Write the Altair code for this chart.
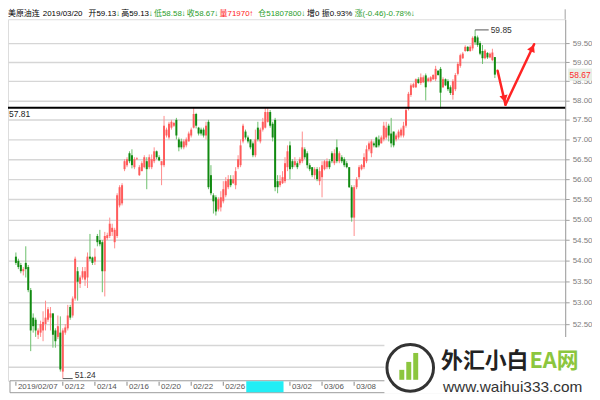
import altair as alt
import pandas as pd

# ---------------- data ----------------
opens = [54.10, 54.00, 53.90, 53.75, 53.95, 53.85, 53.30, 52.65, 52.60, 52.25,
         52.30, 52.35, 52.50, 52.60, 52.65, 52.75, 52.35, 52.20, 52.30, 51.40,
         52.30, 52.40, 52.90, 52.70, 53.10, 53.75, 53.45, 53.60, 53.55, 53.60,
         54.10, 54.08, 53.98, 54.60, 54.50, 54.45, 53.75, 54.55, 54.60, 54.70,
         54.45, 54.60, 55.35, 55.40, 56.25, 56.35, 56.65,
         56.60, 56.30, 56.50, 56.10, 56.20, 56.30, 56.45, 56.30, 56.30, 56.45,
         56.70, 56.55, 56.35, 56.35, 57.10, 57.05, 57.30, 57.35, 57.50, 57.00,
         56.95, 56.80, 56.85, 56.95, 57.10, 57.30, 57.65, 57.30, 57.25, 57.25,
         57.10, 57.45, 56.10, 55.60, 55.55, 55.25, 55.30, 55.45, 55.60, 55.80,
         56.00, 55.90, 55.85, 56.30, 56.35, 56.95, 57.20, 57.05,
         57.00, 56.90, 56.60, 57.30, 56.95, 57.25, 57.30, 57.45, 57.70, 57.40,
         57.50, 55.95, 55.85, 55.90, 55.95, 56.30, 56.85, 56.45, 56.35, 56.40,
         56.40, 56.45, 56.75, 56.65, 56.35, 56.30, 56.10, 56.25, 55.95, 56.05,
         56.25, 56.30, 56.45, 56.65, 56.40, 56.80, 56.45, 56.55, 56.50, 56.40,
         56.30, 55.80, 55.05, 55.80, 56.05, 56.25, 56.30, 56.45, 56.75, 56.65,
         56.90,
         57.05, 57.00, 56.90, 57.00, 57.05, 57.35, 57.15, 57.20, 57.00, 57.05,
         57.10, 57.10, 57.35, 57.78,
         58.14, 58.34, 58.34, 58.55, 58.45, 58.47, 58.65, 58.50, 58.50, 58.55,
         58.55, 58.77, 58.82, 58.34, 58.55, 58.50, 58.34, 58.14, 58.29, 58.69,
         58.90, 59.10, 59.29, 59.40, 59.29, 59.36, 59.68, 59.65, 59.50, 59.29,
         59.10, 59.24, 59.12, 59.05, 59.13]
highs = [54.20, 54.05, 53.95, 53.85, 54.35, 53.90, 53.35, 52.75, 52.65, 52.40,
         52.58, 52.80, 53.05, 52.90, 52.90, 52.75, 52.40, 52.70, 52.68, 52.40,
         52.50, 52.95, 52.95, 53.15, 54.10, 53.85, 53.65, 53.85, 53.85, 54.20,
         54.65, 54.10, 54.30, 54.65, 54.75, 54.50, 54.70, 54.68, 55.05, 54.90,
         54.80, 55.65, 55.85, 55.90, 56.50, 56.55, 56.70,
         56.75, 56.55, 56.55, 56.35, 56.45, 56.60, 56.55, 56.62, 56.62, 56.80,
         56.72, 56.60, 56.45, 57.60, 57.30, 57.45, 57.50, 57.45, 57.55, 57.05,
         57.02, 57.00, 57.05, 57.20, 57.30, 57.81, 57.68, 57.32, 57.30, 57.30,
         57.45, 57.50, 56.35, 55.65, 55.60, 55.55, 55.70, 55.95, 56.05, 56.10,
         56.10, 56.10, 56.30, 56.60, 57.00, 57.40, 57.25, 57.10,
         57.00, 56.95, 57.25, 57.45, 57.30, 57.55, 57.80, 57.80, 57.75, 57.45,
         57.55, 56.10, 56.10, 56.20, 56.55, 56.85, 56.95, 56.50, 56.55, 56.45,
         56.55, 57.20, 56.80, 56.70, 56.40, 56.30, 56.30, 56.30, 56.30, 56.45,
         56.48, 56.52, 56.50, 56.70, 56.75, 57.00, 56.70, 56.60, 56.55, 56.45,
         56.30, 55.85, 55.85, 56.05, 56.35, 56.38, 56.65, 56.85, 56.95, 57.00,
         56.95,
         57.07, 57.10, 57.10, 57.45, 57.45, 57.40, 57.55, 57.20, 57.15, 57.25,
         57.30, 57.45, 57.80, 58.22,
         58.44, 58.46, 58.57, 58.60, 58.70, 58.65, 58.70, 58.60, 58.63, 58.68,
         58.90, 58.79, 58.87, 58.60, 58.57, 58.55, 58.39, 58.55, 58.71, 59.00,
         59.22, 59.26, 59.44, 59.42, 59.44, 59.68, 59.85, 59.70, 59.55, 59.45,
         59.34, 59.26, 59.25, 59.35, 59.13]
lows = [53.90, 53.80, 53.70, 53.65, 53.60, 53.25, 51.87, 52.30, 52.20, 52.15,
        52.20, 52.10, 52.35, 52.55, 52.35, 51.95, 51.95, 52.15, 51.40, 51.24,
        52.25, 52.35, 52.60, 52.65, 53.05, 53.05, 53.35, 53.55, 53.40, 53.35,
        54.00, 53.90, 53.90, 54.35, 54.35, 53.25, 53.15, 54.50, 54.55, 54.60,
        54.30, 54.55, 55.30, 55.35, 56.20, 56.30, 56.40,
        56.27, 56.25, 56.48, 56.08, 56.20, 56.27, 55.75, 56.25, 56.25, 56.40,
        56.50, 56.45, 55.85, 56.30, 57.05, 57.00, 57.25, 57.32, 57.00, 56.70,
        56.75, 56.75, 56.80, 56.95, 57.05, 57.28, 57.28, 57.10, 57.10, 57.05,
        57.00, 55.75, 55.60, 55.15, 55.10, 55.20, 55.20, 55.40, 55.55, 55.75,
        55.80, 55.88, 55.75, 56.25, 56.30, 56.90, 57.00, 56.90,
        56.75, 56.55, 56.55, 56.95, 56.90, 57.20, 57.28, 57.43, 57.30, 56.95,
        55.70, 55.65, 55.80, 55.88, 55.90, 56.20, 56.00, 56.25, 56.30, 56.25,
        56.35, 56.40, 56.50, 56.27, 56.20, 56.05, 56.00, 55.95, 55.85, 55.55,
        56.22, 56.25, 56.25, 56.40, 56.35, 56.40, 56.40, 56.40, 56.30, 56.27,
        55.78, 54.95, 54.60, 55.75, 56.00, 56.22, 56.25, 56.40, 56.70, 56.55,
        56.80,
        56.80, 56.80, 56.90, 56.95, 57.00, 56.95, 56.80, 56.80, 56.95, 57.00,
        57.05, 57.05, 57.30, 57.74,
        58.09, 58.32, 58.32, 58.43, 58.40, 58.45, 58.00, 58.47, 58.47, 58.53,
        58.50, 58.64, 57.79, 58.32, 58.37, 58.24, 58.14, 58.02, 58.24, 58.65,
        58.85, 59.08, 59.27, 59.27, 59.27, 59.30, 59.45, 59.40, 59.18, 58.95,
        59.07, 59.08, 59.10, 59.02, 58.58]
closes = [53.95, 53.85, 53.75, 53.80, 53.80, 53.30, 52.35, 52.45, 52.35, 52.35,
          52.50, 52.55, 52.65, 52.85, 52.75, 52.25, 52.10, 52.45, 51.45, 52.35,
          52.42, 52.70, 52.65, 53.10, 54.05, 53.50, 53.60, 53.75, 53.75, 54.10,
          54.05, 53.95, 54.10, 54.45, 54.40, 53.75, 54.60, 54.62, 54.90, 54.80,
          54.75, 55.60, 55.80, 55.85, 56.45, 56.50, 56.45,
          56.35, 56.50, 56.52, 56.30, 56.40, 56.55, 56.25, 56.55, 56.50, 56.70,
          56.55, 56.47, 56.45, 57.35, 57.25, 57.40, 57.45, 57.42, 57.10, 56.80,
          56.80, 56.95, 57.00, 57.15, 57.25, 57.65, 57.35, 57.15, 57.15, 57.10,
          57.35, 55.80, 55.65, 55.45, 55.20, 55.50, 55.55, 55.75, 55.95, 56.00,
          55.85, 56.00, 56.20, 56.50, 56.85, 57.35, 57.05, 56.95,
          56.80, 56.60, 57.00, 57.00, 57.25, 57.45, 57.70, 57.70, 57.35, 57.05,
          55.80, 55.80, 55.95, 56.05, 56.40, 56.70, 56.25, 56.30, 56.45, 56.30,
          56.50, 56.80, 56.55, 56.35, 56.25, 56.10, 56.25, 56.00, 56.20, 56.35,
          56.45, 56.45, 56.30, 56.45, 56.65, 56.45, 56.65, 56.45, 56.35, 56.30,
          55.80, 55.05, 55.80, 56.00, 56.30, 56.35, 56.55, 56.75, 56.90, 56.95,
          56.85,
          56.80, 56.85, 57.05, 57.35, 57.30, 57.10, 56.90, 56.85, 57.10, 57.20,
          57.25, 57.35, 57.75, 58.17,
          58.39, 58.42, 58.55, 58.45, 58.60, 58.60, 58.34, 58.57, 58.60, 58.66,
          58.82, 58.66, 58.20, 58.55, 58.39, 58.29, 58.19, 58.50, 58.66, 58.95,
          59.18, 59.22, 59.40, 59.29, 59.40, 59.64, 59.52, 59.45, 59.22, 59.10,
          59.30, 59.12, 59.22, 59.25, 58.67]

x_tick_index = [0, 19, 32, 45, 58, 71, 84, 111, 124, 137]
x_tick_labels = ["2019/02/07", "02/12", "02/14", "02/16", "02/20", "02/22",
                 "02/26", "03/02", "03/06", "03/08"]
highlight_range = [93.3, 108.4]
y_tick_values = [52.5, 53.0, 53.5, 54.0, 54.5, 55.0, 55.5, 56.0,
                 56.5, 57.0, 57.5, 58.0, 58.5, 59.0, 59.5]
y_extra_grid = [51.5, 52.0]
resistance = 57.81
last_price = 58.67
last_tag_range = [58.83, 58.51]
high_index, high_value = 186, 59.85
low_index, low_value = 19, 51.24
arrow_x0 = [195.1, 198.3]
arrow_p0 = [58.77, 57.89]
arrow_x1 = [198.3, 209.9]
arrow_p1 = [57.89, 59.47]
head_x = [197.7, 209.0]
head_p = [58.07, 59.34]
head_angle = [167, 25]

header_texts = ["美原油连", "2019/03/20", "开59.13", "↓", "高59.13", "↓",
                "低58.58↓", "收58.67↓", "量71970↑", "仓51807800↓", "增0",
                "振0.93%", "涨(-0.46)-0.78%↓"]
header_colors = ["#000000", "#000000", "#000000", "#2a9d2a", "#000000", "#2a9d2a",
                 "#2a9d2a", "#2a9d2a", "#ff2020", "#2a9d2a", "#000000",
                 "#000000", "#2a9d2a"]
header_x = [0, 35, 81, 109, 114, 142, 147, 180, 213, 252, 301, 316, 349]

# ---------------- layout / style ----------------
W, H = 561, 364
FONT = "Liberation Sans, Noto Sans CJK SC"
UP_BODY, UP_WICK = "#ff5c5c", "#ff8c8c"
DN_BODY, DN_WICK = "#118a11", "#6cbf6c"
GRID = "#d6d6d6"

df = pd.DataFrame({"i": list(range(len(opens))), "o": opens, "h": highs,
                   "l": lows, "c": closes})

xscale = alt.Scale(domain=[-1.19, 220.47], nice=False, zero=False)
yscale = alt.Scale(type="log", domain=[51.19, 60.135], nice=False)
yaxis = alt.Axis(orient="right", values=y_tick_values, format=".2f", grid=True,
                 gridColor=GRID, gridWidth=1.4, tickSize=4,
                 tickColor="#a0a0a0", domainColor="#a0a0a0",
                 labelColor="#808080", labelFont="Liberation Sans",
                 labelFontSize=8, labelPadding=3, title=None,
                 labelOverlap=False, labelFlush=False)


def X(f):
    return alt.X(f, type="quantitative", scale=xscale, axis=None)


def Y(f):
    return alt.Y(f, type="quantitative", scale=yscale, axis=yaxis)


one = pd.DataFrame({"a": [0]})
up = alt.datum.c >= alt.datum.o

extra_grid = alt.Chart(pd.DataFrame({"p": y_extra_grid})).mark_rule(
    color=GRID, strokeWidth=1.4).encode(x=alt.value(0), x2=alt.value(W), y=Y("p"))

wicks = alt.Chart(df).mark_rule(strokeWidth=1).encode(
    x=X("i"), y=Y("l"), y2=alt.Y2("h"),
    color=alt.condition(up, alt.value(UP_WICK), alt.value(DN_WICK)))
bodies = alt.Chart(df).mark_bar(size=2).encode(
    x=X("i"), y=Y("o"), y2=alt.Y2("c"),
    color=alt.condition(up, alt.value(UP_BODY), alt.value(DN_BODY)))

# x axis band
band = alt.Chart(one).mark_rect(fill="white", stroke="#9a9a9a", strokeWidth=1).encode(
    x=alt.value(2), x2=alt.value(W), y=alt.value(H), y2=alt.value(H + 12))
hl = alt.Chart(pd.DataFrame({"x0": [highlight_range[0]], "x1": [highlight_range[1]]})
               ).mark_rect(color="#22eef5").encode(
    x=X("x0"), x2=alt.X2("x1"), y=alt.value(H + 0.5), y2=alt.value(H + 11.5))
xt = pd.DataFrame({"i": x_tick_index, "lab": x_tick_labels})
xticks = alt.Chart(xt).mark_rule(color="#888888").encode(
    x=X("i"), y=alt.value(H + 1), y2=alt.value(H + 5))
xlabels = alt.Chart(xt).mark_text(align="left", baseline="middle", dx=2,
                                  font=FONT, fontSize=8, color="#555555").encode(
    x=X("i"), y=alt.value(H + 6.5), text="lab:N")

# resistance line
res_df = pd.DataFrame({"p": [resistance], "t": [f"{resistance:.2f}"]})
res_line = alt.Chart(res_df).mark_rule(color="black", strokeWidth=2).encode(
    x=alt.value(0), x2=alt.value(W), y=Y("p"))
res_text = alt.Chart(res_df).mark_text(align="left", baseline="middle", dy=6,
                                       font=FONT, fontSize=8.5, color="#222").encode(
    x=alt.value(1), y=Y("p"), text="t:N")

# high / low annotations
hi_df = pd.DataFrame({"x0": [high_index], "x1": [high_index + 5.5],
                      "p": [high_value], "t": [f"{high_value:.2f}"]})
lo_df = pd.DataFrame({"x0": [low_index], "x1": [low_index + 4],
                      "p": [low_value], "t": [f"{low_value:.2f}"]})
hi_rule = alt.Chart(hi_df).mark_rule(color="#555", strokeWidth=1).encode(
    x=X("x0"), x2=alt.X2("x1"), y=Y("p"))
hi_text = alt.Chart(hi_df).mark_text(align="left", baseline="middle", dx=2,
                                     font=FONT, fontSize=8.5, color="#333").encode(
    x=X("x1"), y=Y("p"), text="t:N")
lo_rule = alt.Chart(lo_df).mark_rule(color="#555", strokeWidth=1).encode(
    x=X("x0"), x2=alt.X2("x1"), y=Y("p"))
lo_text = alt.Chart(lo_df).mark_text(align="left", baseline="middle", dx=2, dy=-4,
                                     font=FONT, fontSize=8.5, color="#333").encode(
    x=X("x1"), y=Y("p"), text="t:N")

# red arrows
arr_df = pd.DataFrame({"x0": arrow_x0, "p0": arrow_p0, "x1": arrow_x1, "p1": arrow_p1})
arrows = alt.Chart(arr_df).mark_rule(color="#ff2424", strokeWidth=2.5,
                                     strokeCap="round").encode(
    x=X("x0"), y=Y("p0"), x2=alt.X2("x1"), y2=alt.Y2("p1"))
head_df = pd.DataFrame({"x": head_x, "p": head_p, "ang": head_angle})
heads = alt.Chart(head_df).mark_point(shape="triangle", filled=True, size=70,
                                      color="#ff2424", opacity=1).encode(
    x=X("x"), y=Y("p"), angle=alt.Angle("ang:Q", scale=None))

# axis line through the header
axis_ext = alt.Chart(one).mark_rule(color="#a0a0a0").encode(
    x=alt.value(W), y=alt.value(-10), y2=alt.value(0))

# last price tag
tag_df = pd.DataFrame({"t": [last_tag_range[0]], "b": [last_tag_range[1]],
                       "p": [last_price], "s": [f"{last_price:.2f}"]})
tag_box = alt.Chart(tag_df).mark_rect(color="#e7efe7").encode(
    x=alt.value(W + 3), x2=alt.value(W + 27), y=Y("t"), y2=alt.Y2("b"))
tag_text = alt.Chart(tag_df).mark_text(align="center", baseline="middle",
                                       font=FONT, fontSize=8.5, color="#ff2a2a").encode(
    x=alt.value(W + 15), y=Y("p"), text="s:N")

# watermark
wm_box = alt.Chart(one).mark_rect(color="white").encode(
    x=alt.value(379), x2=alt.value(W + 27), y=alt.value(320), y2=alt.value(H + 13))
wm_circle = alt.Chart(one).mark_point(shape="circle", size=2200, filled=False,
                                      color="#333333", strokeWidth=3, opacity=1).encode(
    x=alt.value(405), y=alt.value(351))
wm_bars_df = pd.DataFrame({"x0": [394, 401, 408], "x1": [399, 406, 413],
                           "y0": [353, 345, 336], "y1": [363, 363, 363]})
wm_bars = alt.Chart(wm_bars_df).mark_rect(color="#8cc63e").encode(
    x=alt.X("x0:Q", scale=None), x2="x1:Q",
    y=alt.Y("y0:Q", scale=None), y2="y1:Q")
wm_t1 = alt.Chart(one).mark_text(align="left", baseline="middle", font="Noto Sans CJK SC",
                                 fontSize=22, fontWeight="bold", color="#222222").encode(
    x=alt.value(436), y=alt.value(344), text=alt.value("外汇小白"))
wm_t2 = alt.Chart(one).mark_text(align="left", baseline="middle", font="Noto Sans CJK SC",
                                 fontSize=22, fontWeight="bold", color="#8cc63e").encode(
    x=alt.value(525), y=alt.value(344), text=alt.value("EA网"))
wm_t3 = alt.Chart(one).mark_text(align="left", baseline="alphabetic", font="Liberation Sans",
                                 fontSize=15.5, color="#333333").encode(
    x=alt.value(438), y=alt.value(375), text=alt.value("www.waihui333.com"))

# header
hd = pd.DataFrame({"t": header_texts, "c": header_colors, "x": header_x})
header = alt.Chart(hd).mark_text(align="left", baseline="middle", font=FONT,
                                 fontSize=8).encode(
    x=alt.X("x:Q", scale=None), y=alt.value(-5), text="t:N",
    color=alt.Color("c:N", scale=None))

chart = alt.layer(
    extra_grid, band, hl, xticks, xlabels, wicks, bodies, res_line, res_text,
    hi_rule, hi_text, lo_rule, lo_text, arrows, heads, axis_ext,
    tag_box, tag_text, wm_box, wm_circle, wm_bars, wm_t1, wm_t2, wm_t3, header
).properties(
    width=W, height=H,
    autosize=alt.AutoSizeParams(type="none"),
    padding={"left": 0, "top": 10, "right": 27, "bottom": 13},
).configure_view(stroke=None).configure(background="white")

chart.save("out.html", embed_options={"renderer": "svg", "actions": False})
